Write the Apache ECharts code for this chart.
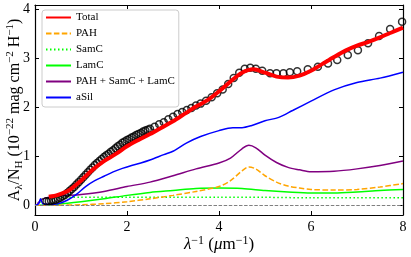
<!DOCTYPE html>
<html><head><meta charset="utf-8">
<script src="https://cdn.jsdelivr.net/npm/echarts@6/dist/echarts.min.js"></script>
<style>html,body{margin:0;padding:0;background:#fff}#c{width:411px;height:257px}</style>
</head><body><div id="c"></div>
<script>
// ---- data ----
const obsX = [0.25,0.30,0.35,0.40,0.45,0.50,0.55,0.60,0.65,0.70,0.75,0.80,0.85,0.90,0.95,1.00,1.05,1.10,1.15,1.20,1.25,1.30,1.35,1.40,1.45,1.50,1.55,1.60,1.65,1.70,1.75,1.80,1.85,1.90,1.95,2.00,2.05,2.10,2.15,2.20,2.25,2.30,2.35,2.40,2.45,2.50,
  2.6,2.7,2.8,2.9,3.0,3.1,3.2,3.3,3.4,3.5,3.6,3.72,3.84,3.96,4.08,4.2,4.32,4.44,4.56,4.68,4.8,4.94,5.11,5.25,5.4,5.54,5.7,5.93,6.15,6.37,6.57,6.8,7.02,7.24,7.48,7.72,7.98];
const obsY = [0.08,0.08,0.09,0.10,0.11,0.13,0.15,0.18,0.21,0.25,0.29,0.33,0.37,0.42,0.47,0.52,0.57,0.62,0.67,0.72,0.77,0.82,0.86,0.90,0.94,0.98,1.02,1.05,1.09,1.12,1.16,1.20,1.23,1.27,1.30,1.33,1.35,1.38,1.40,1.43,1.45,1.47,1.50,1.52,1.54,1.56,
  1.60,1.65,1.69,1.75,1.80,1.86,1.90,1.94,1.98,2.03,2.07,2.13,2.20,2.28,2.36,2.47,2.59,2.70,2.78,2.80,2.78,2.74,2.69,2.69,2.69,2.71,2.73,2.77,2.82,2.89,2.96,3.06,3.16,3.30,3.45,3.59,3.74];

const totalX = [0.3,0.5,0.75,1.0,1.25,1.5,1.75,2.0,2.25,2.5,2.75,3.0,3.25,3.5,3.75,4.0,4.25,4.5,4.75,5.0,5.25,5.5,5.75,6.0,6.25,6.5,6.75,7.0,7.25,7.5,7.75,8.0];
const totalY = [0.17,0.21,0.31,0.50,0.72,0.90,1.04,1.20,1.33,1.45,1.58,1.71,1.86,2.01,2.14,2.32,2.52,2.70,2.77,2.70,2.62,2.60,2.64,2.74,2.88,3.02,3.15,3.25,3.33,3.42,3.52,3.62];

const pahX = [0.0,0.5,1.0,1.5,2.0,2.5,3.0,3.5,4.0,4.25,4.5,4.65,4.8,5.0,5.25,5.5,5.75,6.0,6.5,7.0,7.5,8.0];
const pahY = [0.0,0.0,0.01,0.03,0.07,0.13,0.20,0.28,0.38,0.50,0.70,0.78,0.74,0.60,0.47,0.39,0.35,0.32,0.31,0.32,0.37,0.44];

const samcX = [0.1,0.2,1.0,2.0,3.0,4.0,5.0,6.0,7.0,8.0];
const samcY = [0.05,0.15,0.16,0.16,0.16,0.16,0.16,0.15,0.15,0.15];

const lamcX = [0.1,0.5,1.0,1.5,2.0,2.5,3.0,3.5,4.0,4.5,5.0,5.5,6.0,6.5,7.0,7.5,8.0];
const lamcY = [0.0,0.02,0.07,0.13,0.20,0.26,0.30,0.34,0.35,0.34,0.30,0.27,0.25,0.25,0.27,0.30,0.32];

const carbX = [0.05,0.15,0.3,0.6,1.0,1.5,2.0,2.5,3.0,3.5,4.0,4.25,4.5,4.65,4.8,5.0,5.25,5.5,5.75,6.0,6.5,7.0,7.5,8.0];
const carbY = [0.03,0.12,0.16,0.19,0.22,0.28,0.38,0.47,0.60,0.74,0.86,0.96,1.15,1.22,1.17,1.02,0.87,0.77,0.72,0.68,0.69,0.74,0.81,0.90];

const asilX = [0.0,0.08,0.12,0.17,0.3,0.5,0.7,0.9,1.1,1.3,1.5,1.7,1.9,2.1,2.3,2.5,2.8,3.0,3.3,3.6,4.0,4.3,4.5,4.7,5.0,5.3,5.6,6.0,6.5,7.0,7.5,8.0];
const asilY = [0.0,0.03,0.13,0.03,0.02,0.03,0.10,0.22,0.38,0.50,0.59,0.68,0.75,0.81,0.86,0.92,1.03,1.10,1.27,1.40,1.52,1.58,1.58,1.62,1.72,1.79,1.93,2.12,2.35,2.50,2.59,2.71];

const zeroLine = 0;
const xTicks = [0,2,4,6,8];
const yTicks = [0,1,2,3,4];
const legendNames = ['Total','PAH','SamC','LamC','PAH + SamC + LamC','aSil'];

// ---- chart ----
const FF = 'Liberation Serif';
const pair = (xs, ys) => xs.map((x, i) => [x, ys[i]]);
const chart = echarts.init(document.getElementById('c'), null, {renderer: 'canvas'});

const axisCommon = {
  axisLine: {show: true, onZero: false, lineStyle: {color: '#000', width: 1.2}},
  axisTick: {show: true, inside: true, length: 4, lineStyle: {color: '#000', width: 1}},
  splitLine: {show: false}
};

chart.setOption({
  animation: false,
  backgroundColor: '#fff',
  grid: {left: 35, right: 8, top: 5, bottom: 42, containLabel: false, outerBoundsMode: 'none'},
  legend: {
    orient: 'vertical', left: 42, top: 10,
    data: legendNames,
    itemWidth: 25, itemHeight: 10, itemGap: 5,
    padding: [2, 4, 4, 3],
    borderColor: '#cccccc', borderWidth: 1, borderRadius: 3,
    backgroundColor: 'rgba(255,255,255,0.8)',
    itemStyle: {color: 'rgba(0,0,0,0)', borderWidth: 0, opacity: 0},
    textStyle: {fontFamily: FF, fontSize: 11, color: '#000', lineHeight: 10}
  },
  xAxis: [
    Object.assign({
      type: 'value', position: 'bottom', min: xTicks[0], max: xTicks[xTicks.length-1], interval: xTicks[1]-xTicks[0],
      axisLabel: {fontFamily: FF, fontSize: 14, color: '#000', margin: 5},
      name: '{i|λ}{sup|−1}{n| (}{i|μ}{n|m}{sup|−1}{n|)}',
      nameLocation: 'middle', nameGap: 20, nameMoveOverlap: false,
      nameTextStyle: {fontFamily: FF, fontSize: 17, color: '#000', rich: {
        n: {fontFamily: FF, fontSize: 17, color: '#000', lineHeight: 20},
        i: {fontFamily: FF, fontSize: 17, fontStyle: 'italic', color: '#000', lineHeight: 20},
        sup: {fontFamily: FF, fontSize: 12, color: '#000', lineHeight: 12, verticalAlign: 'top'}
      }}
    }, axisCommon),
    Object.assign({
      type: 'value', position: 'top', min: xTicks[0], max: xTicks[xTicks.length-1], interval: xTicks[1]-xTicks[0],
      axisLabel: {show: false}
    }, axisCommon)
  ],
  yAxis: [
    Object.assign({
      type: 'value', position: 'left', min: -0.2, max: 4.08, minInterval: 1, maxInterval: 1,
      axisLabel: {fontFamily: FF, fontSize: 14, color: '#000', margin: 5, showMinLabel: false, showMaxLabel: false,
        formatter: v => (yTicks.indexOf(v) >= 0 ? String(v) : '')},
      name: '{n|A}{sub|λ}{n|/N}{sub|H}{n| (10}{sup|−22}{n| mag cm}{sup|−2}{n| H}{sup|−1}{n|)}',
      nameLocation: 'middle', nameGap: 10, nameRotate: 90, nameMoveOverlap: false,
      nameTextStyle: {fontFamily: FF, fontSize: 16, color: '#000', rich: {
        n: {fontFamily: FF, fontSize: 16, color: '#000', lineHeight: 20},
        sub: {fontFamily: FF, fontSize: 11, color: '#000', lineHeight: 12, verticalAlign: 'bottom'},
        sup: {fontFamily: FF, fontSize: 11, color: '#000', lineHeight: 12, verticalAlign: 'top'}
      }}
    }, axisCommon),
    Object.assign({
      type: 'value', position: 'right', min: -0.2, max: 4.08, minInterval: 1, maxInterval: 1,
      axisLabel: {show: false}
    }, axisCommon)
  ],
  series: [
    {name: 'SamC', type: 'line', data: pair(samcX, samcY), showSymbol: false, symbol: 'none', smooth: 0.3,
      lineStyle: {color: '#00ff00', width: 1.5, type: [1.5, 2.5]}, itemStyle: {color: '#00ff00'}, z: 3,
      markLine: {silent: true, symbol: 'none', label: {show: false},
        lineStyle: {color: '#808080', width: 1, type: [3.5, 1.6]}, data: [{yAxis: zeroLine}]}},
    {name: 'LamC', type: 'line', data: pair(lamcX, lamcY), showSymbol: false, symbol: 'none', smooth: 0.3,
      lineStyle: {color: '#00ff00', width: 1.5}, itemStyle: {color: '#00ff00'}, z: 3},
    {name: 'PAH', type: 'line', data: pair(pahX, pahY), showSymbol: false, symbol: 'none', smooth: 0.3,
      lineStyle: {color: '#ffa500', width: 1.5, type: [5.5, 2.4]}, itemStyle: {color: '#ffa500'}, z: 3},
    {name: 'PAH + SamC + LamC', type: 'line', data: pair(carbX, carbY), showSymbol: false, symbol: 'none', smooth: 0.3,
      lineStyle: {color: '#800080', width: 1.5}, itemStyle: {color: '#800080'}, z: 3},
    {name: 'aSil', type: 'line', data: pair(asilX, asilY), showSymbol: false, symbol: 'none', smooth: 0.3,
      lineStyle: {color: '#0000ff', width: 1.5}, itemStyle: {color: '#0000ff'}, z: 3},
    {name: 'Observed', type: 'scatter', data: pair(obsX, obsY), symbol: 'circle', symbolSize: 7,
      itemStyle: {color: 'rgba(0,0,0,0)', borderColor: '#000', borderWidth: 1.5}, z: 4},
    {name: 'Total', type: 'line', data: pair(totalX, totalY), showSymbol: false, symbol: 'none', smooth: 0.3,
      lineStyle: {color: '#ff0000', width: 4}, itemStyle: {color: '#ff0000'}, z: 5}
  ]
});
</script>
</body></html>
